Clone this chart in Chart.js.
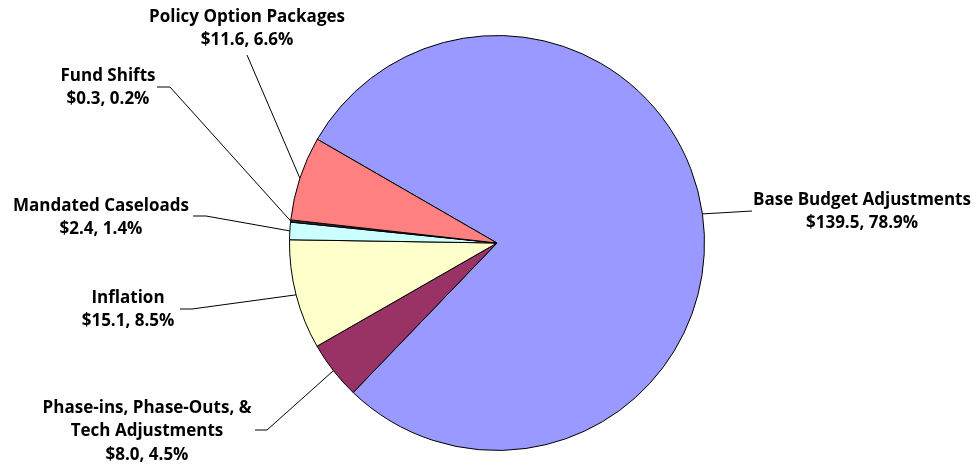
<!DOCTYPE html>
<html>
<head>
<meta charset="utf-8">
<script src="https://cdn.jsdelivr.net/npm/chart.js@4"></script>
<style>
  html, body { margin: 0; padding: 0; background: #fff; }
  #wrap { width: 979px; height: 468px; }
</style>
</head>
<body>
<div id="wrap"><canvas id="aChart" width="979" height="468"></canvas></div>
<script>
let categories = [
  ["Base Budget Adjustments"],
  ["Phase-ins, Phase-Outs, &", "Tech Adjustments"],
  ["Inflation"],
  ["Mandated Caseloads"],
  ["Fund Shifts"],
  ["Policy Option Packages"],
]
let amounts = [139.5, 8.0, 15.1, 2.4, 0.3, 11.6]
let percents = [78.9, 4.5, 8.5, 1.4, 0.2, 6.6]

// fund shifts is so thin it only shows up as a heavy edge
let colors = ["#9999FF", "#993366", "#FFFFCC", "#CCFFFF", "#333333", "#FF8080"]

// where each label sits: text centre, first line middle, elbow of the leader line
let labelLayout = [
  { x: 862, y: 200, ex: 752, ey: 211, tx: 752 },
  { x: 147, y: 408, ex: 267, ey: 430, tx: 255 },
  { x: 128, y: 298, ex: 192, ey: 309, tx: 180 },
  { x: 101, y: 206, ex: 206, ey: 216, tx: 193 },
  { x: 108, y: 76, ex: 170, ey: 87, tx: 157 },
  { x: 247, y: 17, ex: 247, ey: 55, tx: 247 },
]

let labelPlugin = {
  id: "outsideLabels",
  afterDatasetsDraw(chart) {
    let ctx = chart.ctx
    let meta = chart.getDatasetMeta(0)
    ctx.save()
    meta.data.forEach((arc, i) => {
      let p = arc.getProps(["x", "y", "startAngle", "endAngle", "outerRadius"], true)
      let mid = (p.startAngle + p.endAngle) / 2
      let ax = p.x + Math.cos(mid) * p.outerRadius
      let ay = p.y + Math.sin(mid) * p.outerRadius
      let L = labelLayout[i]
      ctx.strokeStyle = "#000"
      ctx.lineWidth = 1
      ctx.beginPath()
      ctx.moveTo(ax, ay)
      ctx.lineTo(L.ex, L.ey)
      ctx.lineTo(L.tx, L.ey)
      ctx.stroke()

      ctx.fillStyle = "#000"
      ctx.font = "bold 17px 'Open Sans'"
      ctx.textAlign = "center"
      ctx.textBaseline = "middle"
      let lines = categories[i].concat(["$" + amounts[i].toFixed(1) + ", " + percents[i].toFixed(1) + "%"])
      lines.forEach((t, k) => ctx.fillText(t, L.x, L.y + k * 23.5))
    })
    ctx.restore()
  }
}

let aChart = new Chart(document.getElementById("aChart"), {
  type: "pie",
  data: {
    labels: categories.map(c => c.join(" ")),
    datasets: [{
      data: amounts,
      backgroundColor: colors,
      borderColor: "#000",
      borderWidth: 1,
    }],
  },
  options: {
    responsive: false,
    animation: false,
    rotation: 300,
    layout: { padding: { top: 35, bottom: 17, left: 289, right: 274 } },
    plugins: {
      legend: { display: false },
      tooltip: { enabled: false },
    },
  },
  plugins: [labelPlugin],
});
</script>
</body>
</html>
